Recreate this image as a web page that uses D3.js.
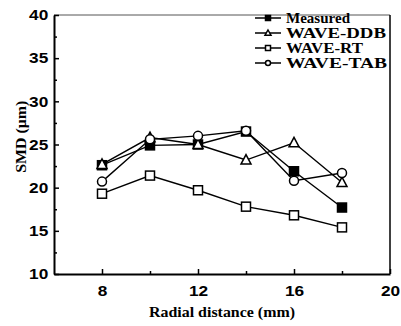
<!DOCTYPE html>
<meta charset="utf-8">
<style>
body { margin: 0; background: #fff; }
.tick-label { font: bold 15px "Liberation Sans", Arial, sans-serif; fill: #000; }
.axis-title { font: bold 14px "Liberation Serif", "Times New Roman", serif; fill: #000; }
.legend text { font: bold 14px "Liberation Serif", "Times New Roman", serif; fill: #000; }
.series { fill: none; stroke: #000; stroke-width: 1.4px; }
</style>
<body>
<svg width="401" height="326"></svg>
<script src="https://d3js.org/d3.v7.min.js"></script>
<script>
var radial = [8, 10, 12, 14, 16, 18];
var measured = [22.6, 24.9, 25.0, 26.5, 21.9, 17.7];
var waveDDB = [22.7, 25.8, 25.0, 23.2, 25.2, 20.6];
var waveRT = [19.3, 21.4, 19.7, 17.8, 16.8, 15.4];
var waveTAB = [20.7, 25.6, 26.0, 26.6, 20.8, 21.7];
var xTicks = [8, 12, 16, 20];
var xMinor = [10, 14, 18];
var yTicks = [10, 15, 20, 25, 30, 35, 40];
var yMinor = [12.5, 17.5, 22.5, 27.5, 32.5, 37.5];

// the scanned type is wide, so legend labels get stretched to these widths
var series = [
  {name: "Measured", values: measured, shape: "square", filled: true, w: 64},
  {name: "WAVE-DDB", values: waveDDB, shape: "triangle", filled: false, w: 100},
  {name: "WAVE-RT", values: waveRT, shape: "square", filled: false, w: 77},
  {name: "WAVE-TAB", values: waveTAB, shape: "circle", filled: false, w: 101}
];

var svg = d3.select("svg"),
    margin = {top: 15, right: 11, bottom: 52, left: 54},
    width = +svg.attr("width") - margin.left - margin.right,
    height = +svg.attr("height") - margin.top - margin.bottom;

var x = d3.scaleLinear().domain([6, 20]).range([0, width]);
var y = d3.scaleLinear().domain([10, 40]).range([height, 0]);

var g = svg.append("g")
    .attr("transform", "translate(" + margin.left + "," + margin.top + ")");

// frame
g.append("line").attr("x1", 0).attr("x2", width).attr("y1", 0).attr("y2", 0)
    .attr("stroke", "#555").attr("stroke-width", 1);
g.append("line").attr("x1", width).attr("x2", width).attr("y1", 0).attr("y2", height)
    .attr("stroke", "#000").attr("stroke-width", 1.5);

// axes with inward ticks
g.append("g")
    .attr("transform", "translate(0," + height + ")")
    .call(d3.axisBottom(x).tickValues(xTicks).tickSize(-5).tickPadding(11).tickSizeOuter(0));
g.append("g")
    .attr("transform", "translate(0," + height + ")")
    .call(d3.axisBottom(x).tickValues(xMinor).tickSize(-3).tickFormat("").tickSizeOuter(0))
    .select(".domain").remove();

g.append("g")
    .call(d3.axisLeft(y).tickValues(yTicks).tickSize(-5).tickPadding(5).tickSizeOuter(0));
g.append("g")
    .call(d3.axisLeft(y).tickValues(yMinor).tickSize(-3).tickFormat("").tickSizeOuter(0))
    .select(".domain").remove();

g.selectAll(".domain").attr("stroke", "#000").attr("stroke-width", 2);
g.selectAll(".tick line").attr("stroke", "#000").attr("stroke-width", 1.5);
g.selectAll(".tick text").attr("class", "tick-label").attr("transform", "scale(1.15,1)");

g.append("text")
    .attr("class", "axis-title")
    .attr("x", x(13))
    .attr("y", height + 43)
    .attr("text-anchor", "middle")
    .attr("textLength", 146)
    .attr("lengthAdjust", "spacingAndGlyphs")
    .text("Radial distance (mm)");

g.append("text")
    .attr("class", "axis-title")
    .attr("transform", "translate(-28," + y(25.9) + ") rotate(-90)")
    .attr("text-anchor", "middle")
    .attr("textLength", 72)
    .attr("lengthAdjust", "spacingAndGlyphs")
    .text("SMD (\u03bcm)");

var line = d3.line()
    .x(function(d, i) { return x(radial[i]); })
    .y(function(d) { return y(d); });

function drawMarker(sel, shape, filled, size) {
  var fill = filled ? "#000" : "#fff";
  if (shape === "circle") {
    sel.append("circle").attr("r", size / 2);
  } else if (shape === "square") {
    sel.append("rect").attr("x", -size / 2).attr("y", -size / 2)
        .attr("width", size).attr("height", size);
  } else {
    sel.append("path").attr("d", "M0," + (-size * 0.6) + "L" + (size / 2 + 0.5) + "," + (size * 0.45) +
        "L" + (-size / 2 - 0.5) + "," + (size * 0.45) + "Z");
  }
  sel.selectAll("*").attr("fill", fill).attr("stroke", "#000").attr("stroke-width", 1.5);
}

series.forEach(function(s) {
  g.append("path").datum(s.values).attr("class", "series").attr("d", line);
});

series.forEach(function(s) {
  s.values.forEach(function(v, i) {
    var m = g.append("g").attr("transform", "translate(" + x(radial[i]) + "," + y(v) + ")");
    drawMarker(m, s.shape, s.filled, 9);
  });
});

// legend
var legend = g.append("g").attr("class", "legend")
    .attr("transform", "translate(" + (width - 135) + ",3)");
series.forEach(function(s, i) {
  var row = legend.append("g").attr("transform", "translate(0," + (i * 15) + ")");
  row.append("line").attr("x1", 0).attr("x2", 26).attr("y1", 0).attr("y2", 0)
      .attr("stroke", "#000").attr("stroke-width", 1.5);
  var m = row.append("g").attr("transform", "translate(13,0)");
  drawMarker(m, s.shape, s.filled, 5);
  row.append("text").attr("x", 31).attr("y", 5)
      .attr("textLength", s.w).attr("lengthAdjust", "spacingAndGlyphs")
      .text(s.name);
});
</script>
</body>
